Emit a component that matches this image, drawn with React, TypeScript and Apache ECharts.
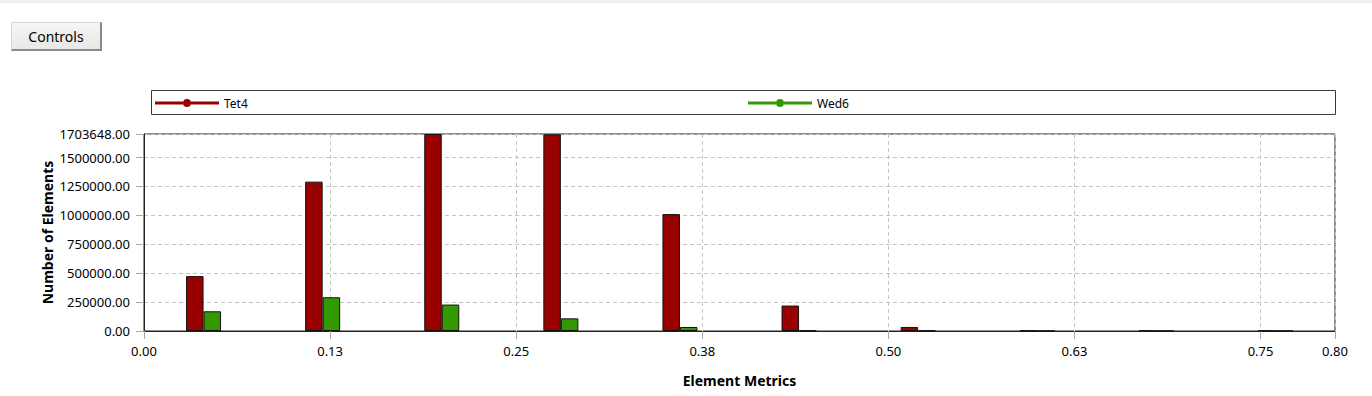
import React, { useEffect, useRef } from "react";
import * as echarts from "echarts";

// Bin centres of the element-metric histogram (bin width 0.08)
const binCenters = [0.04, 0.12, 0.2, 0.28, 0.36, 0.44, 0.52, 0.6, 0.68, 0.76];
// Number of elements per bin
const tet4Counts = [474600, 1291600, 1703648, 1701500, 1010900, 220000, 35000, 4000, 3000, 3000];
const wed6Counts = [170400, 292000, 228600, 109500, 34800, 5000, 4000, 1500, 1000, 1000];
const seriesNames = ["Tet4", "Wed6"];

const xMin = 0;
const xMax = 0.8;
const xStep = 0.125;
const yMin = 0;
const yMax = 1703648;
const yStep = 250000;

const FONT = "'Noto Sans', 'Open Sans', sans-serif";
const legendIcon =
  "path://M0,3L28,3L28,6L0,6Z M36,3L64,3L64,6L36,6Z M32,0.5A4,4 0 1,1 32,8.5A4,4 0 1,1 32,0.5Z";

export default function App() {
  const ref = useRef<HTMLDivElement>(null);

  useEffect(() => {
    const chart = echarts.init(ref.current as HTMLDivElement, null, { renderer: "svg" });
    const legendBase = {
      top: 97,
      z: 10,
      padding: 0,
      icon: legendIcon,
      itemWidth: 64,
      itemHeight: 9,
      itemGap: 5,
      itemStyle: { borderWidth: 0 },
      textStyle: { fontFamily: FONT, fontSize: 12, color: "#000" },
      selectedMode: false,
    };
    chart.setOption({
      animation: false,
      backgroundColor: "#ffffff",
      textStyle: { fontFamily: FONT },
      graphic: [
        {
          type: "rect",
          z: 1,
          shape: { x: 151.5, y: 90.5, width: 1184, height: 24 },
          style: { fill: "#ffffff", stroke: "#3a3a3a", lineWidth: 1 },
        },
      ],
      legend: [
        { ...legendBase, data: [seriesNames[0]], left: 155 },
        { ...legendBase, data: [seriesNames[1]], left: 748 },
      ],
      grid: {
        left: 144,
        right: 37,
        top: 134,
        bottom: 65,
        show: true,
        borderColor: "#222",
        borderWidth: 1,
        containLabel: false,
      },
      xAxis: {
        type: "value",
        min: xMin,
        max: xMax,
        interval: xStep,
        name: "Element Metrics",
        nameLocation: "middle",
        nameGap: 42,
        nameMoveOverlap: false,
        nameTextStyle: { fontFamily: FONT, fontSize: 14, fontWeight: "bold", color: "#000" },
        axisLine: { show: true, lineStyle: { color: "#222", width: 1 } },
        axisTick: { show: true, length: 8, lineStyle: { color: "#a8a8a8" } },
        axisLabel: {
          margin: 13,
          fontFamily: FONT,
          fontSize: 13,
          color: "#000",
          showMaxLabel: true,
          showMinLabel: true,
          formatter: (v: number) => v.toFixed(2),
        },
        splitLine: { show: true, lineStyle: { color: "#c4c4c4", type: [4, 3], width: 1 } },
      },
      yAxis: {
        type: "value",
        min: yMin,
        max: yMax,
        interval: yStep,
        name: "Number of Elements",
        nameLocation: "middle",
        nameGap: 90,
        nameRotate: 90,
        nameMoveOverlap: false,
        nameTextStyle: { fontFamily: FONT, fontSize: 14, fontWeight: "bold", color: "#000" },
        axisLine: { show: true, lineStyle: { color: "#222", width: 1 } },
        axisTick: { show: true, length: 8, lineStyle: { color: "#a8a8a8" } },
        axisLabel: {
          margin: 14,
          fontFamily: FONT,
          fontSize: 13,
          color: "#000",
          showMaxLabel: true,
          showMinLabel: true,
          formatter: (v: number) => v.toFixed(2),
        },
        splitLine: { show: true, lineStyle: { color: "#c4c4c4", type: [4, 3], width: 1 } },
      },
      series: [
        {
          name: seriesNames[0],
          type: "bar",
          barWidth: 17.5,
          barGap: "0%",
          clip: true,
          itemStyle: { color: "#990000", borderColor: "#111", borderWidth: 1 },
          data: binCenters.map((x, i) => [x, tet4Counts[i]]),
        },
        {
          name: seriesNames[1],
          type: "bar",
          barWidth: 17.5,
          barGap: "0%",
          clip: true,
          itemStyle: { color: "#339900", borderColor: "#111", borderWidth: 1 },
          data: binCenters.map((x, i) => [x, wed6Counts[i]]),
        },
      ],
    });
    return () => chart.dispose();
  }, []);

  return (
    <div
      style={{
        position: "fixed",
        left: 0,
        top: 0,
        width: 1372,
        height: 396,
        background: "#ffffff",
        overflow: "hidden",
      }}
    >
      <div ref={ref} style={{ position: "absolute", left: 0, top: 0, width: 1372, height: 396 }} />
      <div
        style={{ position: "absolute", left: 0, top: 0, width: 1372, height: 3, background: "#efefef" }}
      />
      <button
        style={{
          position: "absolute",
          left: 11,
          top: 22,
          width: 91,
          height: 29,
          padding: 0,
          margin: 0,
          fontFamily: FONT,
          fontSize: 14,
          color: "#000",
          background: "linear-gradient(#f5f5f5, #e8e8e8)",
          borderTop: "1px solid #d8d8d8",
          borderLeft: "1px solid #d8d8d8",
          borderRight: "2px solid #8a8a8a",
          borderBottom: "2px solid #8a8a8a",
          borderRadius: 0,
          boxSizing: "border-box",
        }}
      >
        Controls
      </button>
    </div>
  );
}
